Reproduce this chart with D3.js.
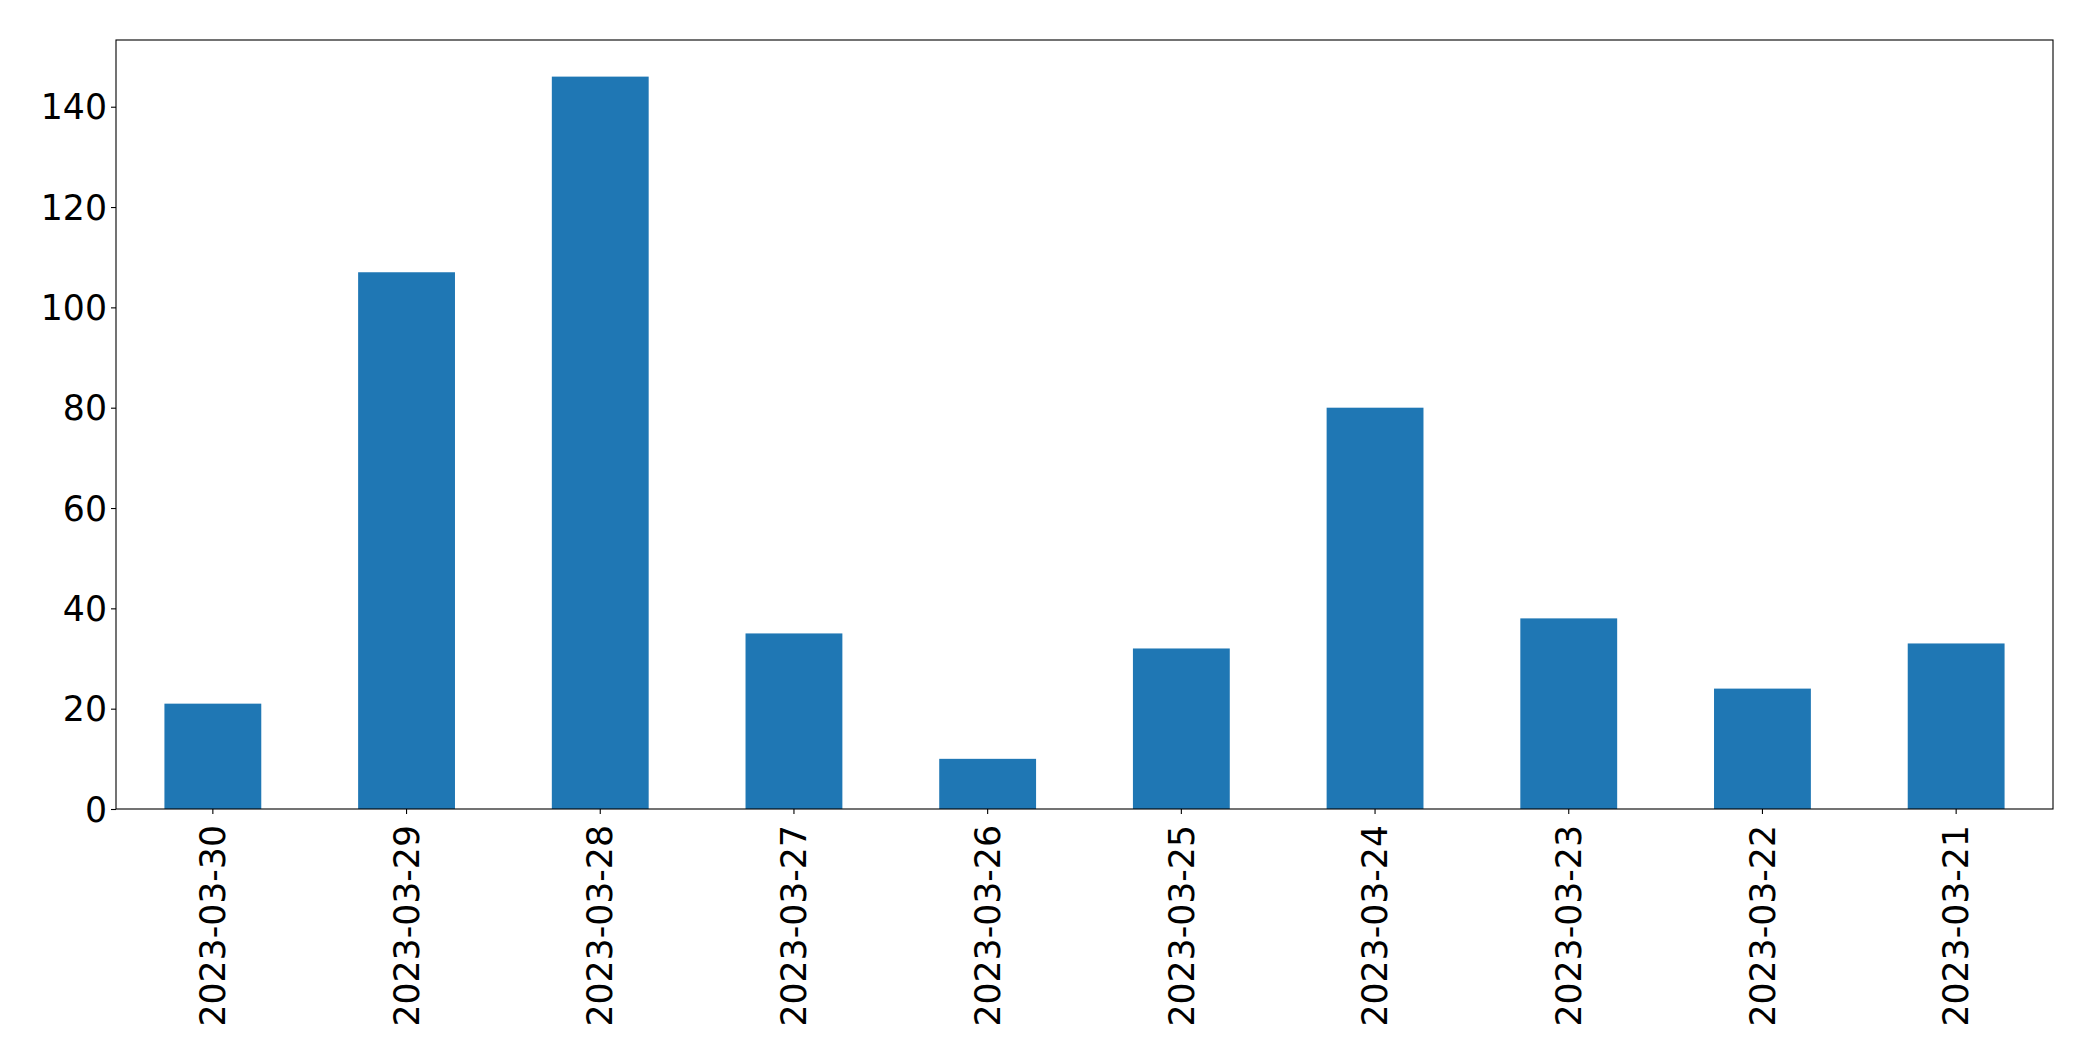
<!DOCTYPE html>
<html>
<head>
<meta charset="utf-8">
<script src="https://cdn.jsdelivr.net/npm/d3@7"></script>
<style>
  html, body { margin: 0; padding: 0; background: #fff; }
  svg { display: block; }
  text { font-family: "DejaVu Sans", sans-serif; fill: #000; }
</style>
</head>
<body>
<svg id="chart" width="2093" height="1061"></svg>
<script>
const categories = ["2023-03-30","2023-03-29","2023-03-28","2023-03-27","2023-03-26","2023-03-25","2023-03-24","2023-03-23","2023-03-22","2023-03-21"];
const values = [21, 107, 146, 35, 10, 32, 80, 38, 24, 33];
const yTicks = [0, 20, 40, 60, 80, 100, 120, 140];

const W = 2093, H = 1061;
const margin = { left: 116, right: W - 2053, top: 40, bottom: H - 809 };
const innerW = W - margin.left - margin.right;
const innerH = H - margin.top - margin.bottom;

const svg = d3.select("#chart");
const g = svg.append("g").attr("transform", `translate(${margin.left},${margin.top})`);

const x = d3.scaleBand().domain(categories).range([0, innerW]).paddingInner(0.5).paddingOuter(0.25);
const y = d3.scaleLinear().domain([0, d3.max(values) * 1.05]).range([innerH, 0]);

g.selectAll("rect.bar").data(values).join("rect")
  .attr("class", "bar")
  .attr("x", (d, i) => x(categories[i]))
  .attr("y", d => y(d))
  .attr("width", x.bandwidth())
  .attr("height", d => y(0) - y(d))
  .attr("fill", "#1f77b4");

const fontSize = 34.7;

const yAxis = g.append("g").call(d3.axisLeft(y).tickValues(yTicks).tickSize(5).tickPadding(4).tickFormat(d3.format("d")));
yAxis.select(".domain").remove();
yAxis.selectAll("line").attr("stroke", "#000").attr("stroke-width", 1.1);
yAxis.selectAll("text").style("font-size", fontSize + "px").attr("dy", "0.35em");

const xAxis = g.append("g").attr("transform", `translate(0,${innerH})`)
  .call(d3.axisBottom(x).tickSize(5).tickPadding(0));
xAxis.select(".domain").remove();
xAxis.selectAll("line").attr("stroke", "#000").attr("stroke-width", 1.1);
xAxis.selectAll("text")
  .style("font-size", fontSize + "px")
  .attr("text-anchor", "end")
  .attr("transform", "rotate(-90)")
  .attr("x", -16)
  .attr("y", 0)
  .attr("dy", "0.35em");

g.append("rect")
  .attr("x", 0).attr("y", 0).attr("width", innerW).attr("height", innerH)
  .attr("fill", "none").attr("stroke", "#000").attr("stroke-width", 1.1);
</script>
</body>
</html>
